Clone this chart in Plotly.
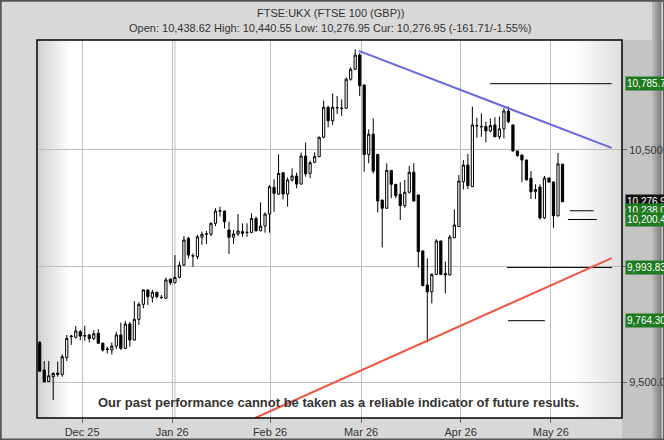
import plotly.graph_objects as go

# ---- data ----
opens = [9671, 9552, 9502, 9523, 9539, 9533, 9606, 9695, 9693, 9717,
         9700, 9703, 9688, 9710, 9667, 9640, 9638, 9655, 9703, 9645,
         9750, 9681, 9770, 9835, 9897, 9865, 9887, 9865, 9861, 9943,
         9928, 9951, 10004, 10119, 10045, 10040, 10124, 10137, 10137, 10184,
         10236, 10237, 10155, 10124, 10138, 10148, 10144, 10145, 10205, 10152,
         10172, 10224, 10339, 10310, 10402, 10310, 10371, 10388, 10353, 10474,
         10399, 10447, 10471, 10555, 10684, 10626, 10683, 10679, 10680, 10805,
         10848, 10909, 10780, 10481, 10568, 10481, 10284, 10249, 10412, 10352,
         10309, 10260, 10318, 10404, 10306, 10065, 9918, 9889, 9964, 10108,
         9968, 9961, 10122, 10170, 10363, 10435, 10342, 10604, 10602, 10601,
         10582, 10608, 10557, 10591, 10668, 10608, 10496, 10478, 10457, 10378,
         10320, 10340, 10207, 10379, 10362, 10216, 10438.62]
highs = [9677, 9590, 9590, 9542, 9588, 9619, 9703, 9703, 9741, 9724,
         9743, 9707, 9724, 9728, 9671, 9652, 9671, 9717, 9756, 9764,
         9760, 9849, 9843, 9899, 9899, 9897, 9889, 9875, 9950, 9947,
         10047, 10019, 10129, 10126, 10055, 10134, 10148, 10151, 10188, 10249,
         10256, 10238, 10191, 10155, 10224, 10184, 10184, 10227, 10213, 10274,
         10231, 10349, 10374, 10481, 10403, 10382, 10421, 10402, 10489, 10532,
         10454, 10490, 10557, 10713, 10690, 10744, 10733, 10718, 10813, 10856,
         10934, 10917, 10782, 10589, 10636, 10483, 10286, 10443, 10414, 10353,
         10361, 10371, 10432, 10443, 10307, 10066, 10033, 9968, 10116, 10109,
         10019, 10134, 10244, 10392, 10457, 10483, 10687, 10639, 10658, 10622,
         10636, 10641, 10644, 10680, 10687, 10609, 10497, 10480, 10458, 10409,
         10352, 10352, 10388, 10382, 10364, 10487, 10440.55]
lows = [9543, 9499, 9500, 9422, 9523, 9523, 9590, 9660, 9688, 9681,
        9677, 9671, 9681, 9666, 9631, 9623, 9619, 9641, 9638, 9644,
        9652, 9680, 9746, 9818, 9832, 9843, 9861, 9858, 9858, 9918,
        9925, 9947, 10000, 10033, 9997, 10029, 10091, 10095, 10129, 10172,
        10213, 10162, 10052, 10095, 10129, 10126, 10126, 10141, 10148, 10150,
        10144, 10144, 10234, 10306, 10287, 10256, 10364, 10335, 10352, 10385,
        10378, 10443, 10470, 10550, 10598, 10608, 10655, 10647, 10677, 10799,
        10845, 10733, 10407, 10443, 10399, 10231, 10080, 10246, 10292, 10292,
        10198, 10251, 10313, 10279, 9994, 9914, 9671, 9839, 9962, 9961,
        9882, 9960, 10119, 10168, 10330, 10332, 10340, 10553, 10557, 10533,
        10576, 10556, 10547, 10550, 10615, 10493, 10471, 10361, 10369, 10289,
        10289, 10200, 10203, 10360, 10165, 10214, 10276.95]
closes = [9547, 9501, 9527, 9537, 9533, 9609, 9688, 9698, 9720, 9698,
          9699, 9688, 9708, 9667, 9638, 9642, 9655, 9703, 9645, 9750,
          9681, 9770, 9835, 9897, 9868, 9887, 9868, 9864, 9940, 9928,
          9951, 10004, 10112, 10047, 10043, 10126, 10137, 10139, 10184, 10237,
          10238, 10191, 10124, 10138, 10151, 10141, 10145, 10205, 10152, 10172,
          10224, 10342, 10313, 10399, 10310, 10371, 10388, 10353, 10474, 10397,
          10445, 10471, 10555, 10684, 10626, 10684, 10682, 10680, 10805, 10848,
          10909, 10777, 10481, 10568, 10409, 10280, 10249, 10412, 10352, 10303,
          10260, 10318, 10404, 10280, 10062, 9915, 9889, 9964, 10108, 9964,
          9961, 10125, 10177, 10366, 10435, 10346, 10608, 10605, 10600, 10582,
          10605, 10557, 10591, 10668, 10622, 10496, 10476, 10457, 10371, 10320,
          10330, 10207, 10379, 10362, 10216, 10440, 10276.95]
bar_index = list(range(len(closes)))

month_tick_pos = [9.4, 29.4, 51.1, 71.3, 93.4, 113.4]
month_tick_labels = ["Dec 25", "Jan 26", "Feb 26", "Mar 26", "Apr 26", "May 26"]
year_line_pos = 30.0

price_ticks = [9500, 10000, 10500]
price_tick_labels = ["9,500.0", "", "10,500.0"]

# trend lines: (start index, start value, end index, end value)
resistance_line = [70.8, 10927, 126.9, 10509]
support_line = [47.8, 9345, 126.9, 10034]

# target levels: (value, from index, to index)
target_levels = [
    (10785.7, 99.9, 126.9),
    (9993.83, 103.7, 127.0),
    (9764.3, 103.9, 112.1),
    (10238.0, 117.6, 122.9),
    (10200.4, 117.2, 123.6),
]

# right-hand value boxes: (value, text, colour)
value_boxes = [
    (10785.7, "10,785.73", "#1f7a1f"),
    (10276.95, "10,276.95", "#111111"),
    (10238.0, "10,238.00", "#1f7a1f"),
    (10200.4, "10,200.40", "#1f7a1f"),
    (9993.83, "9,993.83", "#1f7a1f"),
    (9764.3, "9,764.30", "#1f7a1f"),
]

X_RANGE = [-0.6, 129.2]
Y_RANGE = [9345, 10974]

fig = go.Figure()
fig.add_trace(go.Candlestick(
    x=bar_index, open=opens, high=highs, low=lows, close=closes,
    increasing=dict(fillcolor="white", line=dict(color="black", width=1)),
    decreasing=dict(fillcolor="black", line=dict(color="black", width=1)),
    whiskerwidth=0, showlegend=False, hoverinfo="skip",
))

shapes = []
# background gradients in plot area (left and right edges)
n = 10
for k in range(n):
    g = int(0xd2 + (0xff - 0xd2) * k / (n - 1))
    shapes.append(dict(type="rect", xref="paper", yref="paper",
                       x0=k * 0.006, x1=(k + 1) * 0.006 + 0.001, y0=0, y1=1,
                       fillcolor=f"rgb({g},{g},{g})", line=dict(width=0), layer="below"))
for k in range(n):
    g = int(0xff - (0xff - 0xe0) * (k + 1) / n)
    shapes.append(dict(type="rect", xref="paper", yref="paper",
                       x0=0.92 + k * 0.008, x1=0.92 + (k + 1) * 0.008 + 0.001, y0=0, y1=1,
                       fillcolor=f"rgb({g},{g},{g})", line=dict(width=0), layer="below"))
# extra year gridline
shapes.append(dict(type="line", xref="x", yref="paper", x0=year_line_pos, x1=year_line_pos,
                   y0=0, y1=1, line=dict(color="#bdbdbd", width=1), layer="below"))
# right axis panel (paper background region) with darker outer strip
shapes.append(dict(type="rect", xref="paper", yref="paper", x0=1.0, x1=1.08, y0=-0.06, y1=1.0,
                   fillcolor="#c4c4c4", line=dict(width=0), layer="below"))
for k in range(6):
    g = int(0xc4 - (0xc4 - 0x80) * (k + 1) / 6)
    shapes.append(dict(type="rect", xref="paper", yref="paper",
                       x0=1.0513 + k * 0.0026, x1=1.0513 + (k + 1) * 0.0026 + 0.0005,
                       y0=-0.06, y1=1.11, fillcolor=f"rgb({g},{g},{g})",
                       line=dict(width=0), layer="below"))
# target lines
for val, a, b in target_levels:
    shapes.append(dict(type="line", xref="x", yref="y", x0=a, x1=b, y0=val, y1=val,
                       line=dict(color="black", width=1)))
# trend lines
shapes.append(dict(type="line", xref="x", yref="y",
                   x0=resistance_line[0], y0=resistance_line[1],
                   x1=resistance_line[2], y1=resistance_line[3],
                   line=dict(color="#6666dd", width=2)))
shapes.append(dict(type="line", xref="x", yref="y",
                   x0=support_line[0], y0=support_line[1],
                   x1=support_line[2], y1=support_line[3],
                   line=dict(color="#ee5544", width=2)))
# plot border
shapes.append(dict(type="rect", xref="paper", yref="paper", x0=0, x1=1, y0=0, y1=1,
                   line=dict(color="black", width=1.5), fillcolor="rgba(0,0,0,0)"))
# outer frame
shapes.append(dict(type="rect", xref="paper", yref="paper", x0=-0.062, x1=1.072, y0=-0.057, y1=1.104,
                   line=dict(color="#555555", width=2), fillcolor="rgba(0,0,0,0)"))

annotations = [
    dict(text="FTSE:UKX (FTSE 100 (GBP))", xref="paper", yref="paper", x=0.5009, y=1.0714,
         yanchor="middle", showarrow=False,
         font=dict(size=11, color="#333333", family="Liberation Sans, Arial")),
    dict(text="Open: 10,438.62 High: 10,440.55 Low: 10,276.95 Cur: 10,276.95 (-161.71/-1.55%)",
         xref="paper", yref="paper", x=0.5009, y=1.0317, yanchor="middle", showarrow=False,
         font=dict(size=11, color="#333333", family="Liberation Sans, Arial")),
    dict(text="<b>Our past performance cannot be taken as a reliable indicator of future results.</b>",
         xref="paper", yref="paper", x=0.516, y=0.0423, yanchor="middle", showarrow=False,
         font=dict(size=13, color="#333333", family="Liberation Sans Narrow, Arial Narrow, Liberation Sans")),
]
for val, txt, col in value_boxes:
    annotations.append(dict(text=txt, xref="paper", yref="y", x=1.005, y=val, xanchor="left",
                            yanchor="middle", showarrow=False, bgcolor=col, borderpad=1,
                            font=dict(size=10, color="white", family="Liberation Sans, Arial")))

fig.update_layout(
    width=664, height=440,
    margin=dict(l=37, r=42, t=40, b=22, autoexpand=False),
    paper_bgcolor="#d8d8d8", plot_bgcolor="white",
    shapes=shapes, annotations=annotations,
    xaxis=dict(range=X_RANGE, tickvals=month_tick_pos, ticktext=month_tick_labels,
               showgrid=True, gridcolor="#bdbdbd", gridwidth=1, zeroline=False,
               ticks="outside", ticklen=4, tickcolor="#666666", automargin=False,
               tickfont=dict(size=11, color="#333333", family="Liberation Sans, Arial"),
               rangeslider=dict(visible=False), fixedrange=True),
    yaxis=dict(range=Y_RANGE, side="right", tickvals=price_ticks, ticktext=price_tick_labels,
               showgrid=True, gridcolor="#bdbdbd", gridwidth=1, zeroline=False,
               ticks="outside", ticklen=4, tickcolor="#666666", automargin=False,
               tickfont=dict(size=11, color="#333333", family="Liberation Sans, Arial"),
               fixedrange=True),
)

fig.write_html("out.html", config={"displayModeBar": False},
               post_script="document.body.style.margin='0';")
